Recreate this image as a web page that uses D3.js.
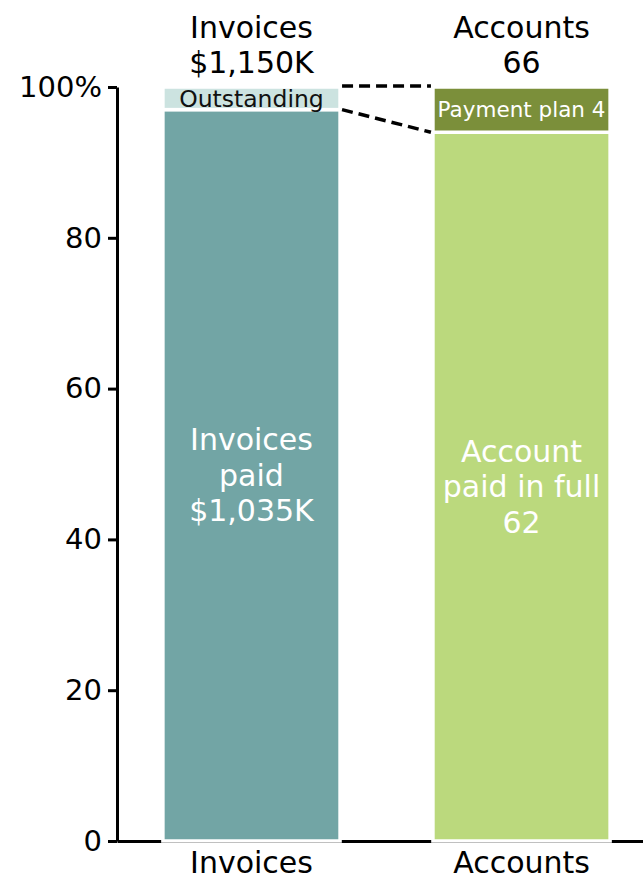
<!DOCTYPE html>
<html>
<head>
<meta charset="utf-8">
<script src="https://cdn.jsdelivr.net/npm/d3@7"></script>
<style>
  body { margin: 0; background: #fff; }
  svg { display: block; font-family: "DejaVu Sans", Verdana, sans-serif; }
  .axis path, .axis line { stroke: #000; stroke-width: 3; }
  .axis text { font-family: "DejaVu Sans", Verdana, sans-serif; font-size: 29px; fill: #000; }
  .x-axis text { font-size: 30px; }
</style>
</head>
<body>
<svg width="643" height="880"></svg>
<script>
// chart values (percent of each bar)
var categories = ["Invoices", "Accounts"];
var paidShares = [97, 94];
var otherShares = [3, 6];
var headerLines = [["Invoices", "$1,150K"], ["Accounts", "66"]];
var paidLabels = [["Invoices", "paid", "$1,035K"], ["Account", "paid in full", "62"]];
var otherLabels = ["Outstanding", "Payment plan 4"];
var yTicks = [0, 20, 40, 60, 80, 100];

var paidColors = ["#72a5a5", "#bbd97d"];
var otherColors = ["#cce3e0", "#7b8f3a"];
var otherTextColors = ["#111", "#fff"];

var svg = d3.select("svg"),
    margin = { top: 87, left: 117, bottom: 39 },
    height = +svg.attr("height") - margin.top - margin.bottom,
    g = svg.append("g").attr("transform", "translate(" + margin.left + "," + margin.top + ")");

var x = d3.scaleBand()
    .domain(categories)
    .range([0, 539])
    .paddingInner(0.344)
    .paddingOuter(0.17);

var y = d3.scaleLinear()
    .domain([0, 100])
    .range([height, 0]);

var rows = categories.map(function(c, i) {
    return {
        key: c,
        paid: paidShares[i],
        other: otherShares[i],
        i: i
    };
});

// axes
g.append("g")
    .attr("class", "axis x-axis")
    .attr("transform", "translate(0," + height + ")")
    .call(d3.axisBottom(x).tickSize(0).tickPadding(11))
    .call(function(a) { a.selectAll("text").attr("dy", "0.71em"); });

g.append("g")
    .attr("class", "axis y-axis")
    .call(d3.axisLeft(y)
        .tickValues(yTicks)
        .tickSize(9)
        .tickSizeOuter(0)
        .tickPadding(6)
        .tickFormat(function(d) { return d === 100 ? d + "%" : d; }));

// bars
var bar = g.selectAll(".bar-group")
    .data(rows)
    .enter().append("g")
    .attr("class", "bar-group")
    .attr("transform", function(d) { return "translate(" + x(d.key) + ",0)"; });

bar.append("rect")
    .attr("y", function(d) { return y(d.paid); })
    .attr("width", x.bandwidth())
    .attr("height", function(d) { return y(0) - y(d.paid); })
    .attr("fill", function(d) { return paidColors[d.i]; })
    .attr("stroke", "#fff")
    .attr("stroke-width", 3.5);

bar.append("rect")
    .attr("y", function(d) { return y(d.paid + d.other); })
    .attr("width", x.bandwidth())
    .attr("height", function(d) { return y(d.paid) - y(d.paid + d.other); })
    .attr("fill", function(d) { return otherColors[d.i]; })
    .attr("stroke", "#fff")
    .attr("stroke-width", 3.5);

// labels inside the paid segment
var lineH = 35.5;
bar.append("text")
    .attr("text-anchor", "middle")
    .attr("fill", "#fff")
    .style("font-size", "30px")
    .attr("transform", function(d) {
        return "translate(" + x.bandwidth() / 2 + "," + (y(0) + y(d.paid)) / 2 + ")";
    })
    .selectAll("tspan")
    .data(function(d) { return paidLabels[d.i]; })
    .enter().append("tspan")
    .attr("x", 0)
    .attr("y", function(d, i) { return (i - 1) * lineH; })
    .attr("dy", "0.35em")
    .text(function(d) { return d; });

// labels inside the small segment
bar.append("text")
    .attr("text-anchor", "middle")
    .attr("x", x.bandwidth() / 2)
    .attr("y", function(d) { return (y(d.paid) + y(d.paid + d.other)) / 2; })
    .attr("dy", "0.35em")
    .attr("fill", function(d) { return otherTextColors[d.i]; })
    .style("font-size", function(d) { return d.i === 0 ? "23.5px" : "21.5px"; })
    .text(function(d) { return otherLabels[d.i]; });

// header above bars
bar.append("text")
    .attr("text-anchor", "middle")
    .style("font-size", "30px")
    .attr("fill", "#000")
    .selectAll("tspan")
    .data(function(d) { return headerLines[d.i]; })
    .enter().append("tspan")
    .attr("x", x.bandwidth() / 2)
    .attr("y", function(d, i) { return -49 + i * 35; })
    .text(function(d) { return d; });

// dashed connector lines
var left = rows[0], right = rows[1];
var x1 = x(left.key) + x.bandwidth() + 2,
    x2 = x(right.key) - 2;

g.append("line")
    .attr("x1", x1).attr("x2", x2)
    .attr("y1", y(100) - 1).attr("y2", y(100) - 1)
    .attr("stroke", "#000")
    .attr("stroke-width", 3.5)
    .attr("stroke-dasharray", "11,6");

g.append("line")
    .attr("x1", x1).attr("y1", y(left.paid))
    .attr("x2", x2).attr("y2", y(right.paid))
    .attr("stroke", "#000")
    .attr("stroke-width", 3.5)
    .attr("stroke-dasharray", "11,6");
</script>
</body>
</html>
